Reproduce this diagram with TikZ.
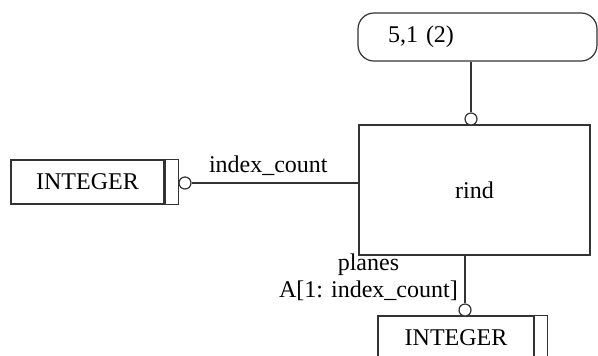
\documentclass[tikz,border=0pt]{standalone}
\usepackage{fontspec}
\setmainfont{Liberation Serif}
\usetikzlibrary{positioning}

\tikzset{
  ent/.style={draw=black!80, line width=0.6pt, inner sep=0pt, minimum height=22pt},
  ring/.style={circle, draw=black!80, line width=0.6pt, fill=white, inner sep=0pt, minimum size=6pt},
  conn/.style={draw=black!80, line width=0.6pt}
}

\begin{document}
\begin{tikzpicture}[x=0.5pt, y=-0.5pt, font=\fontsize{12}{13.5}\selectfont]
  \useasboundingbox (0,0) rectangle (598,355);
  \clip (0,0) rectangle (598,355);
  % boxes
  \node[ent, rounded corners=8pt, minimum width=119.5pt, minimum height=24pt, text width=89.5pt, align=left] (ref) at (477.5,37) {5,1 (2)};
  \node[ent, minimum width=115.5pt, minimum height=65pt] (rind) at (474.5,190) {rind};
  \node[ent, minimum width=76.5pt] (int1) at (87.5,182) {INTEGER};
  \node[ent, minimum width=78pt] (int2) at (456,338) {INTEGER};
  \draw[conn] (int1.north east) -- ++(14,0) |- (int1.south east);
  \draw[conn, line width=1.6pt] (int1.north east) -- (int1.south east);
  \draw[conn] (int2.north east) -- ++(13,0) |- (int2.south east);
  % rings
  \node[ring] (c1) at (185,183) {};
  \node[ring] (c2) at (471,119) {};
  \node[ring] (c3) at (465,310) {};
  \path[conn]
  (c1) edge node[above, pos=0.46] {index\_count} (c1 -| rind.west)
  (ref.south -| c2) edge (c2)
  (rind.south -| c3) edge node[left, align=center, pos=0.45] {planes\\A[1: index\_count]} (c3)
;
\end{tikzpicture}
\end{document}
